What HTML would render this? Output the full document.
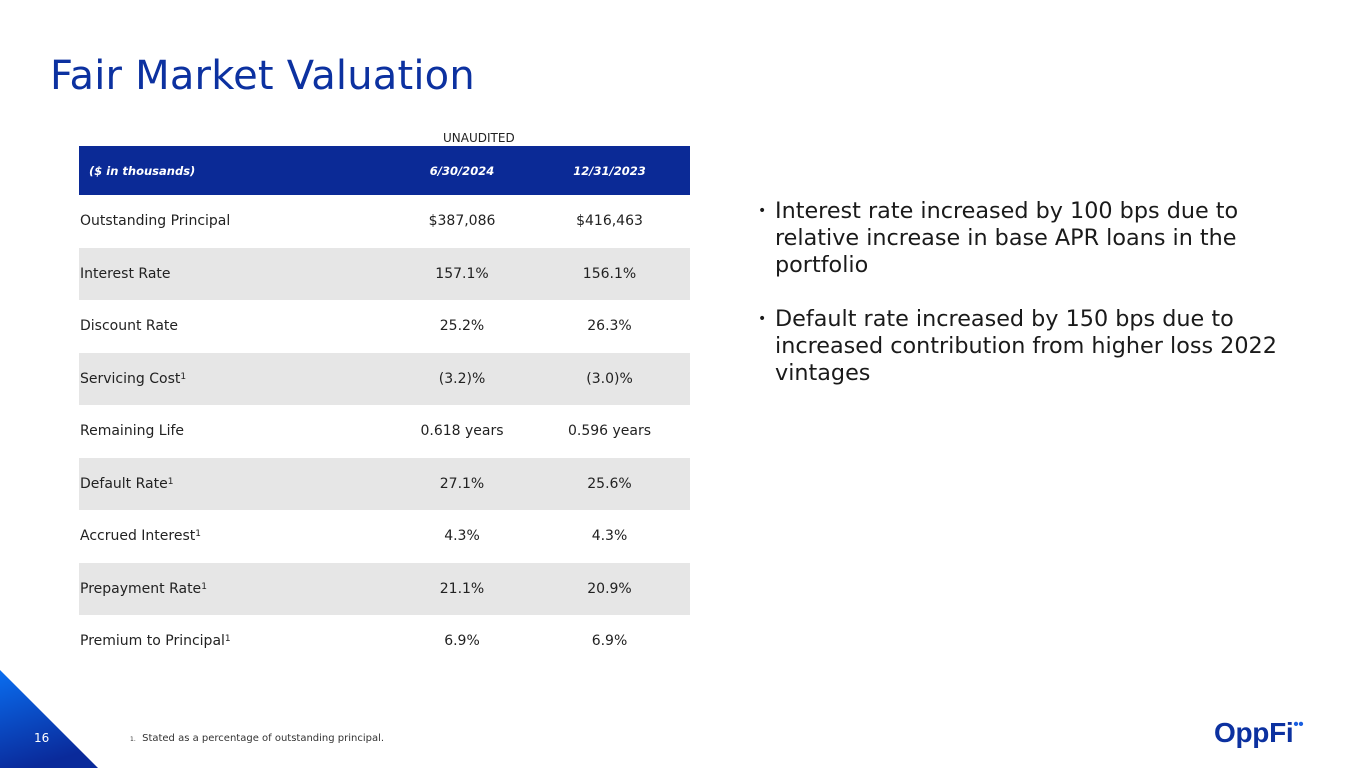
<!DOCTYPE html>
<html><head><meta charset="utf-8"><style>
body{margin:0;width:1365px;height:768px;background:#fff;position:relative;overflow:hidden;font-family:"DejaVu Sans","Liberation Sans",sans-serif;}
.abs{position:absolute;}
#title{left:50px;top:53px;font-size:40px;color:#0c31a0;letter-spacing:0.2px;}
table{position:absolute;left:79px;top:146px;width:611px;border-collapse:collapse;font-size:14px;color:#222;}
th{background:#0b2a96;color:#fff;font-style:italic;font-weight:bold;font-size:11.5px;height:49px;padding:0;}
td{height:52.5px;padding:0;}
td:first-child{padding-left:1px;}
td.v{text-align:center;}
tr.g td{background:#e6e6e6;}
sup{font-size:9px;vertical-align:4px;}
.b{left:758px;font-size:22.3px;color:#1a1a1a;line-height:27px;width:560px;}
.b span.dot{position:absolute;left:0;font-size:14px;}
.b div{padding-left:17px;}
</style></head><body>
<div id="title" class="abs">Fair Market Valuation</div>
<div class="abs" style="left:443px;top:131px;font-size:12px;color:#222">UNAUDITED</div>
<table>
<tr><th style="text-align:left;padding-left:10px;width:300px">($ in thousands)</th><th style="width:146px">6/30/2024</th><th style="padding-right:6px">12/31/2023</th></tr>
<tr><td>Outstanding Principal</td><td class="v">$387,086</td><td class="v" style="padding-right:6px">$416,463</td></tr>
<tr class="g"><td>Interest Rate</td><td class="v">157.1%</td><td class="v" style="padding-right:6px">156.1%</td></tr>
<tr><td>Discount Rate</td><td class="v">25.2%</td><td class="v" style="padding-right:6px">26.3%</td></tr>
<tr class="g"><td>Servicing Cost<sup>1</sup></td><td class="v">(3.2)%</td><td class="v" style="padding-right:6px">(3.0)%</td></tr>
<tr><td>Remaining Life</td><td class="v">0.618 years</td><td class="v" style="padding-right:6px">0.596 years</td></tr>
<tr class="g"><td>Default Rate<sup>1</sup></td><td class="v">27.1%</td><td class="v" style="padding-right:6px">25.6%</td></tr>
<tr><td>Accrued Interest<sup>1</sup></td><td class="v">4.3%</td><td class="v" style="padding-right:6px">4.3%</td></tr>
<tr class="g"><td>Prepayment Rate<sup>1</sup></td><td class="v">21.1%</td><td class="v" style="padding-right:6px">20.9%</td></tr>
<tr><td>Premium to Principal<sup>1</sup></td><td class="v">6.9%</td><td class="v" style="padding-right:6px">6.9%</td></tr>
</table>
<div class="abs b" style="top:198px"><span class="dot">•</span><div>Interest rate increased by 100 bps due to relative increase in base APR loans in the portfolio</div></div>
<div class="abs b" style="top:306px"><span class="dot">•</span><div>Default rate increased by 150 bps due to increased contribution from higher loss 2022 vintages</div></div>
<svg class="abs" style="left:0;top:668px" width="100" height="100"><defs><linearGradient id="g" x1="0" y1="0" x2="0.3" y2="1"><stop offset="0" stop-color="#0a6ef0"/><stop offset="1" stop-color="#0a2a9a"/></linearGradient></defs><polygon points="0,2 0,100 98,100" fill="url(#g)"/></svg>
<div class="abs" style="left:34px;top:731px;font-size:12px;color:#fff">16</div>
<div class="abs" style="left:130px;top:733px;font-size:10px;color:#333"><span style="font-size:6px">1.</span>&nbsp; Stated as a percentage of outstanding principal.</div>
<div class="abs" style="left:1214px;top:716px;font-size:28px;font-weight:bold;color:#0c31a0;font-family:'Liberation Sans',sans-serif;letter-spacing:-0.3px">OppFi<span style="font-size:15px;vertical-align:13px;color:#1a5fe0">&#8226;&#8226;</span></div>
</body></html>
